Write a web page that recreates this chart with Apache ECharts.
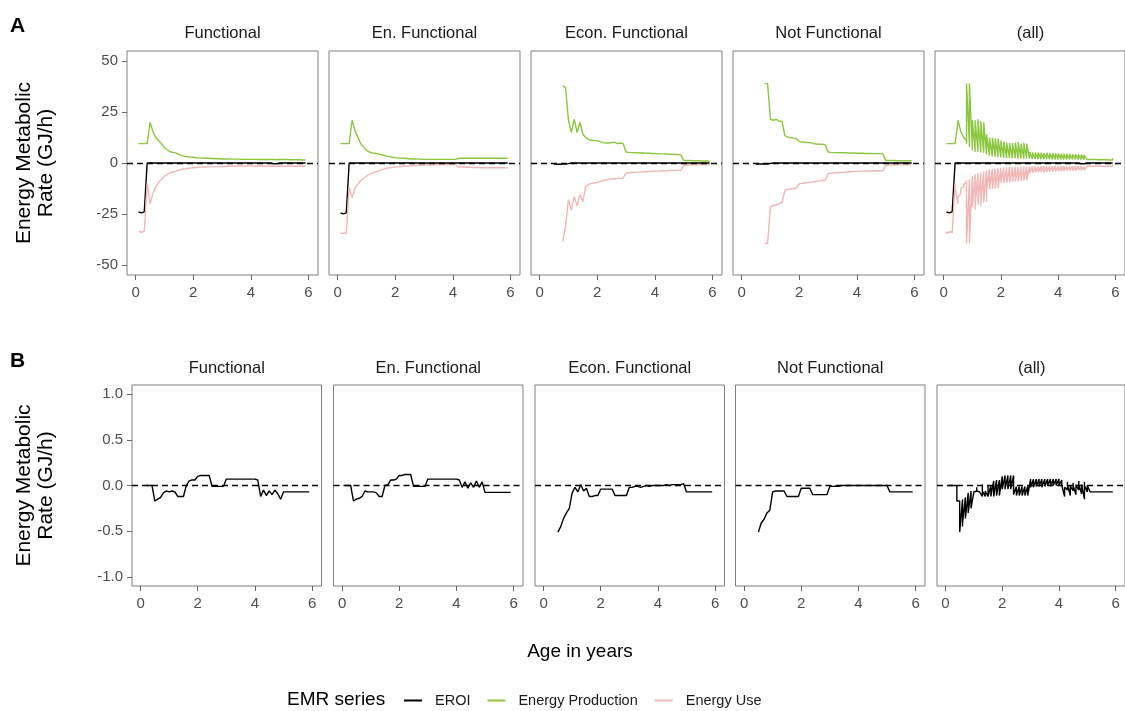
<!DOCTYPE html>
<html>
<head>
<meta charset="utf-8">
<script src="https://cdn.jsdelivr.net/npm/echarts@6/dist/echarts.min.js"></script>
<style>
html,body{margin:0;padding:0;background:#fff;}
#main{width:1125px;height:711px;}
</style>
</head>
<body>
<div id="main"></div>
<script>
// ages sampled on the same grid for every group
var ages = [0.1,0.2,0.3,0.4,0.5,0.6,0.7,0.8,0.9,1.0,
	1.1,1.2,1.3,1.4,1.5,1.6,1.7,1.8,1.9,2.0,
	2.1,2.2,2.3,2.4,2.5,2.6,2.7,2.8,2.9,3.0,
	3.1,3.2,3.3,3.4,3.5,3.6,3.7,3.8,3.9,4.0,
	4.1,4.2,4.3,4.4,4.5,4.6,4.7,4.8,4.9,5.0,
	5.1,5.2,5.3,5.4,5.5,5.6,5.7,5.8,5.9];

var panels = ['Functional','En. Functional','Econ. Functional','Not Functional','(all)'];
var seriesNames = ['EROI','Energy Production','Energy Use'];
var xTicks = [0,2,4,6];
var yTicksA = [-50,-25,0,25,50];
var yTicksB = [-1,-0.5,0,0.5,1];

// A: Functional
var eroiF = [-24,-24.5,-24,0,0,0,0,0,0,0,
	0,0,0,0,0,0,0,0,0,0,
	0,0,0,0,0,0,0,0,0,0,
	0,0,0,0,0,0,0,0,0,0,
	0,0,0,0,0,0,0,-0.4,-0.4,0,
	0,0,0,0,0,0,0,0,0];
var prodF = [9.5,9.5,9.5,9.5,20,15.5,12.5,11,9.5,7.5,
	6.5,5.5,5.2,5,4.2,3.6,3.3,3.1,2.9,2.8,
	2.6,2.5,2.4,2.3,2.3,2.2,2.2,2.1,2.1,2.0,
	2.0,2.0,1.9,1.9,1.9,1.9,1.8,1.8,1.8,1.8,
	1.8,1.8,1.7,1.7,1.7,1.7,1.7,1.7,1.6,1.7,
	1.7,1.7,1.7,1.6,1.6,1.6,1.6,1.5,1.5];
var useF = [-33.5,-34,-33.5,-10,-20,-15,-11.8,-9.5,-8,-6.5,
	-5.5,-4.8,-4.4,-4.0,-3.5,-3.1,-2.9,-2.7,-2.5,-2.3,
	-2.2,-2.1,-2.0,-2.0,-1.9,-1.9,-1.8,-1.8,-1.8,-1.7,
	-1.7,-1.6,-1.6,-1.6,-1.5,-1.5,-1.5,-1.5,-1.5,-1.5,
	-1.5,-1.5,-1.5,-1.5,-1.5,-1.6,-1.6,-1.6,-1.6,-1.6,
	-1.6,-1.6,-1.6,-1.6,-1.6,-1.6,-1.6,-1.6,-1.6];

// A: En. Functional
var eroiE = [-24.5,-25,-24.5,0,0,0,0,0,0,0,
	0,0,0,0,0,0,0,0,0,0,
	0,0,0,0,0,0,0,0,0,0,
	0,0,0,0,0,0,0,0,0,0,
	0,0,0,0,0,0,0,0,0,0,
	0,0,0,0,0,0,0,0,0];
var prodE = [9.5,9.5,9.5,9.5,21,16,12.7,9.5,7.8,6.2,
	5.4,5.0,4.8,4.5,4.2,3.8,3.4,3.1,2.8,2.6,
	2.5,2.4,2.3,2.2,2.1,2.0,2.0,1.9,1.9,1.8,
	1.8,1.8,1.8,1.8,1.8,1.8,1.8,1.8,1.8,1.8,
	1.8,2.3,2.3,2.3,2.3,2.3,2.3,2.3,2.3,2.3,
	2.3,2.3,2.3,2.3,2.3,2.3,2.3,2.3,2.3];
var useE = [-34.5,-34.5,-34.5,-12,-17,-12.5,-10.5,-8.5,-7.5,-6.5,
	-5.5,-5.0,-4.5,-4.0,-3.5,-3.0,-2.6,-2.4,-2.2,-2.0,
	-1.8,-1.7,-1.6,-1.5,-1.4,-1.3,-1.2,-1.1,-1.1,-1.0,
	-1.0,-1.0,-0.9,-0.9,-0.9,-0.9,-0.8,-0.8,-0.8,-0.8,
	-0.8,-2.0,-2.0,-2.0,-2.1,-2.1,-2.2,-2.2,-2.2,-2.3,
	-2.3,-2.3,-2.3,-2.3,-2.3,-2.3,-2.3,-2.3,-2.3];

// A: Econ. Functional
var eroiC = [null,null,null,null,-0.6,-0.6,-0.6,-0.5,-0.5,-0.3,
	0,0,0,0,0,0,0,0,0,0,
	0,0,0,0,0,0,0,0,0,0,
	0,0,0,0,0,0,0,0,0,0,
	0,0,0,0,0,0,0,0,0,0,
	0,0,0,0,0,0,0,0,0];
var prodC = [null,null,null,null,null,null,null,38,37,21,
	15,21.5,15,20,14,12.5,11.5,11.2,11,11,
	10.5,10,9.8,9.8,10,10.2,9.5,9.8,9.5,5.4,
	5.2,5.1,5.1,5.0,4.9,5.0,4.8,4.8,4.7,4.7,
	4.6,4.5,4.5,4.4,4.3,4.3,4.2,4.2,4.0,1.3,
	1.2,1.2,1.1,1.1,1.1,1.0,1.0,1.0,1.0];
var useC = [null,null,null,null,null,null,null,-38.5,-31,-18,
	-23,-16.5,-21,-15.5,-19,-11.5,-10.5,-10,-9.8,-9.5,
	-9,-8.6,-8.3,-8,-7.8,-7.7,-7.6,-7.5,-7.3,-4.9,
	-4.8,-4.7,-4.6,-4.5,-4.5,-4.4,-4.3,-4.2,-4.1,-4.0,
	-4.0,-3.9,-3.8,-3.8,-3.7,-3.7,-3.6,-3.6,-3.5,-1.1,
	-1.0,-1.0,-0.9,-0.9,-0.9,-0.8,-0.8,-0.8,-0.8];

// A: Not Functional
var eroiN = [null,null,null,null,-0.5,-0.5,-0.5,-0.5,-0.5,-0.2,
	0,0,0,0,0,0,0,0,0,0,
	0,0,0,0,0,0,0,0,0,0,
	0,0,0,0,0,0,0,0,0,0,
	0,0,0,0,0,0,0,0,0,0,
	0,0,0,0,0,0,0,0,0];
var prodN = [null,null,null,null,null,null,null,39,39,21.5,
	21,21.5,20.5,20.5,13.5,12.7,12.5,12.2,12,10.5,
	10.3,10.2,10,10,9.5,9.3,9.2,9.2,9.0,5.4,
	5.2,5.1,5.1,5.0,5.0,5.0,4.9,4.9,4.9,4.8,
	4.8,4.8,4.7,4.7,4.7,4.6,4.6,4.6,4.5,1.3,
	1.2,1.2,1.2,1.1,1.1,1.1,1.1,1.1,1.1];
var useN = [null,null,null,null,null,null,null,-39.5,-39.5,-21.5,
	-21,-20.5,-20,-19.5,-13.4,-13,-12.7,-12.5,-12.3,-10.2,
	-10,-9.8,-9.6,-9.4,-9.2,-9,-8.8,-8.6,-8.5,-5.2,
	-5.0,-4.9,-4.8,-4.7,-4.6,-4.5,-4.4,-4.3,-4.2,-4.1,
	-4.0,-4.0,-3.9,-3.9,-3.9,-3.8,-3.8,-3.8,-3.8,-1.1,
	-1.0,-1.0,-1.0,-0.9,-0.9,-0.9,-0.9,-0.9,-0.9];

// B: EMR per group
var emrF = [null,0,0,0,-0.17,-0.15,-0.13,-0.08,-0.06,-0.07,
	-0.06,-0.07,-0.12,-0.12,-0.12,0,0.05,0.06,0.06,0.1,
	0.11,0.11,0.11,0.11,-0.01,-0.01,-0.01,-0.01,-0.01,0.07,
	0.07,0.07,0.07,0.07,0.07,0.07,0.07,0.07,0.07,0.07,
	0.06,-0.12,-0.05,-0.11,-0.06,-0.1,-0.05,-0.09,-0.15,-0.07,
	-0.07,-0.07,-0.07,-0.07,-0.07,-0.07,-0.07,-0.07,-0.07];
var emrE = [0,0,0,-0.17,-0.15,-0.14,-0.12,-0.06,-0.07,-0.07,
	-0.07,-0.08,-0.12,-0.12,0,0.01,0.06,0.06,0.07,0.11,
	0.11,0.12,0.12,0.12,-0.01,-0.01,-0.01,-0.01,-0.01,0.07,
	0.07,0.07,0.07,0.07,0.07,0.07,0.07,0.07,0.07,0.07,
	0.06,-0.02,0.04,-0.03,0.03,-0.02,0.05,-0.02,0.04,-0.075,
	-0.075,-0.075,-0.075,-0.075,-0.075,-0.075,-0.075,-0.075,-0.075];
var emrC = [null,null,null,null,-0.51,-0.45,-0.36,-0.3,-0.25,-0.08,
	-0.02,-0.07,0.01,-0.06,-0.03,-0.12,-0.12,-0.11,-0.11,-0.04,
	-0.04,-0.04,-0.04,-0.04,-0.11,-0.11,-0.11,-0.11,-0.11,-0.02,
	-0.02,-0.01,-0.01,-0.02,-0.01,0,-0.01,0,0,0,
	0,0,0.01,0,0.01,0.01,0.01,0.01,0.02,-0.07,
	-0.07,-0.07,-0.07,-0.07,-0.07,-0.07,-0.07,-0.07,-0.07];
var emrN = [null,null,null,null,-0.51,-0.41,-0.37,-0.3,-0.27,-0.07,
	-0.06,-0.06,-0.06,-0.06,-0.12,-0.12,-0.12,-0.12,-0.12,-0.03,
	-0.03,-0.03,-0.03,-0.1,-0.1,-0.1,-0.1,-0.1,-0.1,-0.01,
	-0.01,-0.01,-0.01,0,0,0,0,0,0,0,
	0,0,0,0,0,0,0,0,0,0,
	-0.07,-0.07,-0.07,-0.07,-0.07,-0.07,-0.07,-0.07,-0.07];

var colors = ['#000000','#8cc63f','#f1b6b6'];
var FONT = '"Liberation Sans", Arial, Helvetica, sans-serif';

// panel boxes, one row each
var rowA = {top:51, height:224, width:191, lefts:[127,329,531,733,935], nameGap:70};
var rowB = {top:385, height:201, width:189.5, lefts:[132,333.5,535,735.5,937], nameGap:75};

//[x,y] pairs, skipping ages with no value
function toPairs(ys){
	var out = [];
	for(var i=0;i<ages.length;i++){
		if(ys[i]!==null) out.push([ages[i], ys[i]]);
	}
	return out;
}

//(all) facet: every group's points together, in age order
function mergeAll(list){
	var all = [];
	list.forEach(function(ys){ all = all.concat(toPairs(ys)); });
	all.sort(function(a,b){ return a[0]-b[0]; });
	return all;
}

var rowAData = [[eroiF,prodF,useF],[eroiE,prodE,useE],[eroiC,prodC,useC],[eroiN,prodN,useN]];
var rowBData = [emrF,emrE,emrC,emrN];

var grids=[], xAxes=[], yAxes=[], series=[], graphics=[];

var dashed = {
	silent:true, symbol:['none','none'], animation:false,
	label:{show:false},
	lineStyle:{type:[6,4], color:'#000', width:1.3},
	data:[{yAxis:0}]
};

function addPanel(layout, col, yMin, yMax, yTicks, fmt, stripY){
	var g = grids.length;
	grids.push({left:layout.lefts[col], top:layout.top, width:layout.width, height:layout.height,
		show:true, borderColor:'#808080', borderWidth:1, backgroundColor:'transparent'});
	xAxes.push({
		type:'value', gridIndex:g, min:-0.3, max:6.33,
		splitLine:{show:false}, axisLine:{show:false, onZero:false},
		axisTick:{show:true, length:5, customValues:xTicks, lineStyle:{color:'#666'}},
		axisLabel:{customValues:xTicks, margin:10, fontSize:15, color:'#4d4d4d', fontFamily:FONT}
	});
	var y = {
		type:'value', gridIndex:g, min:yMin, max:yMax,
		splitLine:{show:false}, axisLine:{show:false, onZero:false},
		axisTick:{show:col===0, length:5, customValues:yTicks, lineStyle:{color:'#666'}},
		axisLabel:{show:col===0, customValues:yTicks, margin:9, fontSize:15, color:'#4d4d4d', fontFamily:FONT,
			formatter:fmt}
	};
	if(col===0){
		y.name = 'Energy Metabolic\nRate (GJ/h)';
		y.nameLocation = 'middle';
		y.nameRotate = 90;
		y.nameGap = layout.nameGap;
		y.nameTextStyle = {fontSize:21, lineHeight:22, color:'#000', fontFamily:FONT};
	}
	yAxes.push(y);
	graphics.push({type:'text', x:layout.lefts[col]+layout.width/2, y:stripY,
		style:{text:panels[col], textAlign:'center', textVerticalAlign:'middle', fontSize:16.5, fill:'#1a1a1a', fontFamily:FONT}});
	return g;
}

function lineSeries(name, color, g, data, withZero){
	var s = {
		type:'line', name:name, xAxisIndex:g, yAxisIndex:g, data:data,
		showSymbol:false, symbol:'none', animation:false,
		lineStyle:{color:color, width:1.4}, itemStyle:{color:color}
	};
	if(withZero) s.markLine = dashed;
	return s;
}

// row A
for(var c=0;c<5;c++){
	var g = addPanel(rowA, c, -55, 55, yTicksA, function(v){ return String(v); }, 33);
	for(var k=0;k<3;k++){
		var d;
		if(c<4) d = toPairs(rowAData[c][k]);
		else d = mergeAll(rowAData.map(function(r){ return r[k]; }));
		series.push(lineSeries(seriesNames[k], colors[k], g, d, k===0));
	}
}
// row B
for(var c2=0;c2<5;c2++){
	var g2 = addPanel(rowB, c2, -1.1, 1.1, yTicksB, function(v){ return v.toFixed(1); }, 368);
	var d2 = c2<4 ? toPairs(rowBData[c2]) : mergeAll(rowBData);
	series.push(lineSeries('EROI', colors[0], g2, d2, true));
}

graphics.push({type:'text', x:10, y:26, style:{text:'A', textVerticalAlign:'middle', fontSize:21, fontWeight:'bold', fill:'#000', fontFamily:FONT}});
graphics.push({type:'text', x:10, y:361, style:{text:'B', textVerticalAlign:'middle', fontSize:21, fontWeight:'bold', fill:'#000', fontFamily:FONT}});
graphics.push({type:'text', x:580, y:652, style:{text:'Age in years', textAlign:'center', textVerticalAlign:'middle', fontSize:19, fill:'#000', fontFamily:FONT}});
graphics.push({type:'text', x:287, y:700, style:{text:'EMR series', textVerticalAlign:'middle', fontSize:19, fill:'#000', fontFamily:FONT}});

var myChart = echarts.init(document.getElementById('main'));
myChart.setOption({
	animation:false,
	backgroundColor:'#fff',
	grid:grids,
	xAxis:xAxes,
	yAxis:yAxes,
	legend:{
		data:seriesNames, left:399, top:688, icon:'rect', itemWidth:18, itemHeight:2, itemGap:17,
		selectedMode:false,
		textStyle:{fontSize:14.5, color:'#1a1a1a', fontFamily:FONT, padding:[0,0,0,8]}
	},
	graphic:graphics,
	series:series
});
</script>
</body>
</html>
